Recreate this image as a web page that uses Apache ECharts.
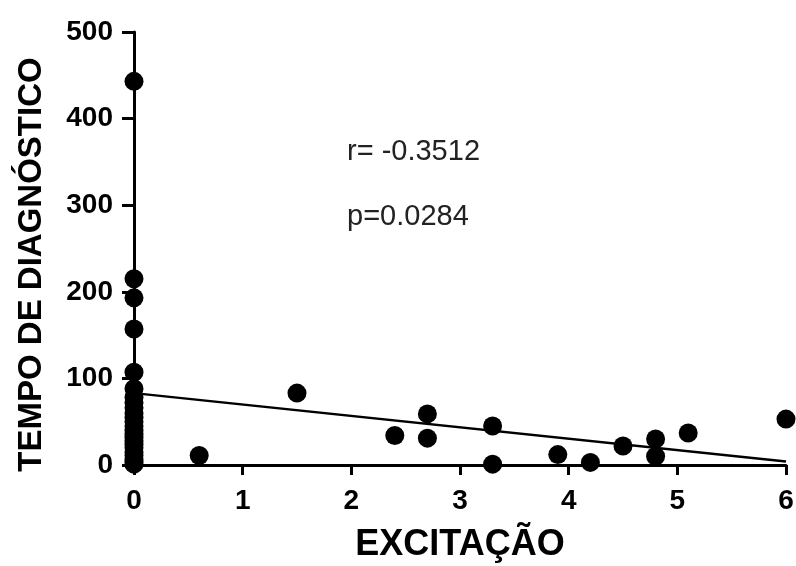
<!DOCTYPE html>
<html>
<head>
    <meta http-equiv="Content-Type" content="text/html; charset=utf-8" />
    <style type="text/css">
        body, html, #chart {width: 796px; height: 566px; overflow: hidden; margin: 0; background: #fff;}
    </style>
    <title>Excitação</title>
</head>
<body>
<div id="chart"></div>
<script src="https://cdn.jsdelivr.net/npm/echarts@6/dist/echarts.min.js"></script>
<script type="text/javascript">
    // excitação (x) vs tempo de diagnóstico (y)
    var excitacao = [0, 0, 0, 0, 0, 0, 0, 0, 0, 0, 0, 0, 0, 0, 0, 0, 0, 0, 0, 0, 0, 0, 0, 0,
        0.6, 1.5, 2.4, 2.7, 2.7, 3.3, 3.3, 3.9, 4.2, 4.5, 4.8, 4.8, 5.1, 6.0];
    var tempo = [443, 215, 193, 157, 107, 88, 78, 72, 66, 60, 55, 50, 45, 40, 36, 32, 28, 24, 20, 15, 11, 7, 4, 1,
        11, 83, 34, 59, 31, 45, 1, 12, 3, 22, 30, 10, 37, 53];
    // linha de regressão
    var lineX = [0, 6];
    var lineY = [83, 4];
    var xTicks = [0, 1, 2, 3, 4, 5, 6];
    var yTicks = [0, 100, 200, 300, 400, 500];
    var stats = ['r= -0.3512', 'p=0.0284'];

    var pts = excitacao.map(function (x, i) { return [x, tempo[i]]; });
    var reg = lineX.map(function (x, i) { return [x, lineY[i]]; });

    var chart = echarts.init(document.getElementById('chart'));
    var font = 'Liberation Sans, Arial, sans-serif';
    var bold = {fontFamily: font, fontWeight: 'bold', color: '#000'};

    chart.setOption({
        animation: false,
        grid: {left: 134, top: 32, right: 10, bottom: 101, containLabel: false, outerBoundsMode: 'none'},
        xAxis: {
            type: 'value', min: xTicks[0], max: xTicks[xTicks.length - 1], interval: 1,
            name: 'EXCITAÇÃO', nameLocation: 'middle', nameGap: 62,
            nameTextStyle: Object.assign({fontSize: 36}, bold),
            axisLine: {onZero: false, lineStyle: {color: '#000', width: 3}},
            axisTick: {length: 10, lineStyle: {color: '#000', width: 3}},
            axisLabel: Object.assign({fontSize: 28, margin: 22}, bold),
            splitLine: {show: false}
        },
        yAxis: {
            type: 'value', min: yTicks[0], max: yTicks[yTicks.length - 1], interval: 100,
            name: 'TEMPO DE DIAGNÓSTICO', nameLocation: 'middle', nameGap: 86,
            nameTextStyle: Object.assign({fontSize: 33, padding: [0, 32, 0, 0]}, bold),
            axisLine: {onZero: false, lineStyle: {color: '#000', width: 3}},
            axisTick: {length: 12, lineStyle: {color: '#000', width: 3}},
            axisLabel: Object.assign({fontSize: 28, margin: 21}, bold),
            splitLine: {show: false}
        },
        graphic: [
            {type: 'text', left: 347, top: 137, style: {text: stats[0], fontSize: 29, fontFamily: font, fill: '#222'}},
            {type: 'text', left: 347, top: 202, style: {text: stats[1], fontSize: 29, fontFamily: font, fill: '#222'}}
        ],
        series: [
            {
                type: 'line', data: reg, showSymbol: false, symbol: 'none',
                lineStyle: {color: '#000', width: 2.5}, z: 3
            },
            {
                type: 'scatter', data: pts, symbolSize: 19, clip: false,
                itemStyle: {color: '#000', opacity: 1}, z: 4
            }
        ]
    });
</script>
</body>
</html>
